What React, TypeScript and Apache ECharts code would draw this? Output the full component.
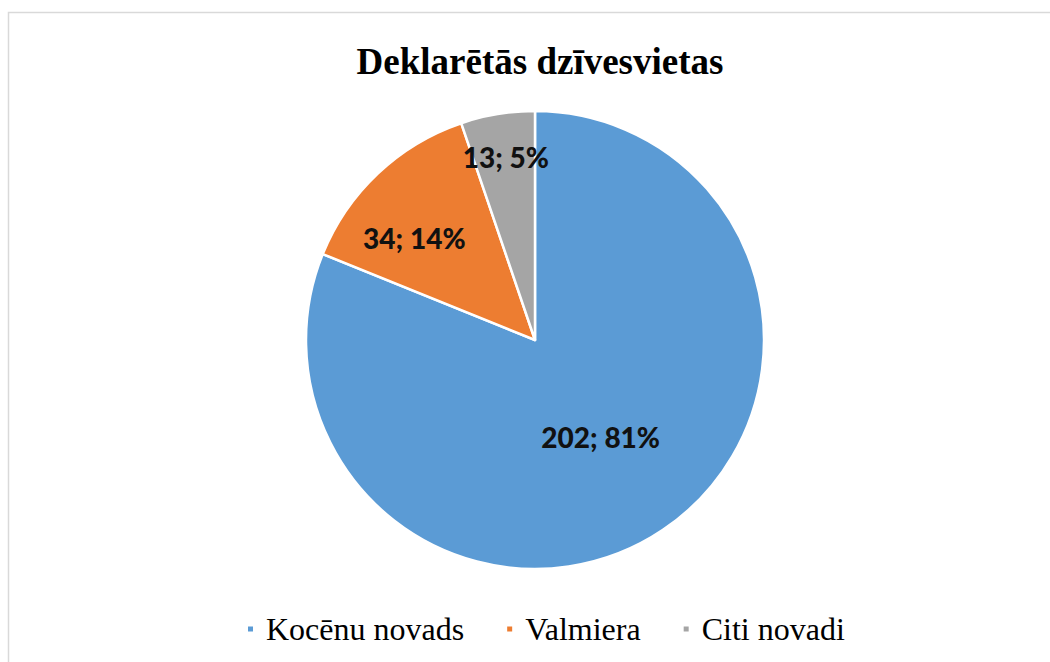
import React, { useEffect, useRef } from "react";
import * as echarts from "echarts";

const titleText = "Deklarētās dzīvesvietas";
const categories = ["Kocēnu novads", "Valmiera", "Citi novadi"];
const values = [202, 34, 13];
const colors = ["#5b9bd5", "#ed7d31", "#a5a5a5"];
const labelOffsets = [
  [0, 0],
  [-40, -17],
  [-10, -67],
];

export default function App() {
  const ref = useRef<HTMLDivElement>(null);
  useEffect(() => {
    if (!ref.current) return;
    const chart = echarts.init(ref.current, null, { renderer: "svg" });
    chart.setOption({
      animation: false,
      backgroundColor: "#ffffff",
      title: {
        text: titleText,
        left: 535,
        top: 38,
        textAlign: "center",
        textStyle: {
          fontFamily: "Liberation Serif",
          fontWeight: "bold",
          fontSize: 37,
          color: "#000",
        },
      },
      legend: {
        left: 241,
        top: 608,
        icon: "rect",
        itemWidth: 7,
        itemHeight: 7,
        itemGap: 41,
        selectedMode: false,
        textStyle: {
          fontFamily: "Liberation Serif",
          fontSize: 32,
          color: "#000",
          padding: [0, 0, 0, 7],
        },
        data: categories,
      },
      graphic: [
        {
          type: "rect",
          shape: { x: 8.5, y: 12.5, width: 1100, height: 700 },
          style: { fill: "none", stroke: "#d9d9d9", lineWidth: 1.5 },
          silent: true,
        },
      ],
      series: [
        {
          type: "pie",
          center: [535, 340],
          radius: [0, 229],
          startAngle: 90,
          clockwise: true,
          percentPrecision: 0,
          itemStyle: { borderColor: "#ffffff", borderWidth: 2.5 },
          label: {
            show: true,
            position: "inside",
            formatter: "{c}; {d}%",
            fontFamily: "Lato",
            fontWeight: 900,
            fontSize: 28,
            color: "#111",
          },
          labelLine: { show: false },
          emphasis: { disabled: true },
          data: categories.map((name, i) => ({
            name,
            value: values[i],
            itemStyle: { color: colors[i] },
            label: { offset: labelOffsets[i] },
          })),
        },
      ],
    });
    return () => chart.dispose();
  }, []);
  return (
    <div
      ref={ref}
      style={{ position: "fixed", left: 0, top: 0, width: 1050, height: 662 }}
    />
  );
}
